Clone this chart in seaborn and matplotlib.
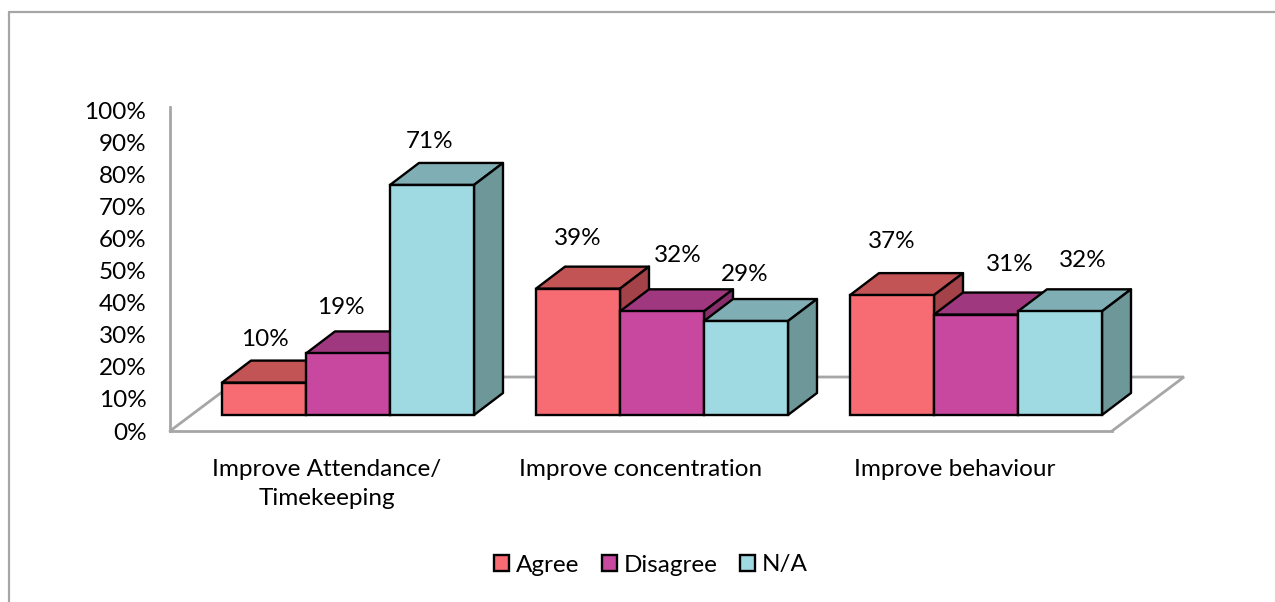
import matplotlib
matplotlib.use("Agg")
import matplotlib.pyplot as plt
import pandas as pd
import seaborn as sns
from matplotlib.lines import Line2D
from matplotlib.patches import Polygon

# Survey results
items = ["Improve Attendance/\nTimekeeping", "Improve concentration", "Improve behaviour"]
responses = ["Agree", "Disagree", "N/A"]
agree = [10, 39, 37]
disagree = [19, 32, 31]
not_applicable = [71, 29, 32]

front_colors = ["#F76C72", "#C8479F", "#9FD9E1"]
top_colors = ["#C25456", "#9F387F", "#7FAEB4"]
side_colors = ["#A34248", "#872F6B", "#6E9799"]
GREY = "#A6A6A6"
TEXT_SIZE = 17.5

W, H = 1275, 602
sns.set_theme(style="white")
plt.rcParams["font.family"] = ["Lato", "DejaVu Sans"]
plt.rcParams["font.size"] = TEXT_SIZE

df = pd.DataFrame({
    "item": items * 3,
    "response": [r for r in responses for _ in items],
    "share": agree + disagree + not_applicable,
})


def axes_px(fig, left, top, right, bottom):
    """Add axes from a box given in pixels measured from the top-left corner."""
    return fig.add_axes([left / W, 1 - bottom / H, (right - left) / W, (bottom - top) / H])


fig = plt.figure(figsize=(W / 100, H / 100), dpi=100, facecolor="white")

# Chart frame: open on the right and bottom edges
fig.add_artist(Line2D([9 / W, 9 / W], [0, 1 - 12 / H], color=GREY, lw=1.6))
fig.add_artist(Line2D([9 / W, 1], [1 - 12 / H, 1 - 12 / H], color=GREY, lw=1.6))

# Value axis, category labels and the floor of the 3D box
frame = axes_px(fig, 170, 107, 1112, 431)
frame.set_xlim(-0.5, 2.5)
frame.set_ylim(0, 101)
frame.set_xticks(range(3), items, fontsize=TEXT_SIZE, linespacing=1.5)
frame.set_yticks(range(0, 101, 10), [f"{v}%" for v in range(0, 101, 10)], fontsize=TEXT_SIZE)
frame.tick_params(axis="y", length=0, pad=17, labelcolor="black")
frame.tick_params(axis="x", length=0, pad=20, labelcolor="black")
for name in ("top", "right"):
    frame.spines[name].set_visible(False)
for name in ("left", "bottom"):
    frame.spines[name].set_color(GREY)
    frame.spines[name].set_linewidth(2)
floor_dx = 72 / 314
floor_dy = 54 / (324 / 101)
frame.plot([-0.5, -0.5 + floor_dx, 2.5 + floor_dx, 2.5], [0, floor_dy, floor_dy, 0],
           color=GREY, lw=2, clip_on=False, solid_joinstyle="miter")

# Bars stand slightly behind the front edge of the floor
ax = axes_px(fig, 191, 91, 1133, 415)
ax.patch.set_alpha(0)
sns.barplot(data=df, x="item", y="share", hue="response", order=items, hue_order=responses,
            palette=front_colors, saturation=1, width=0.8025, gap=0,
            edgecolor="black", linewidth=1.7, ax=ax)
handles, labels = ax.get_legend_handles_labels()
ax.get_legend().remove()
ax.set_xlim(-0.5, 2.5)
ax.set_ylim(0, 100)
ax.axis("off")

# Extrude every bar: top and side faces, painted left to right so later bars overlap
depth_x = 29 / 314
depth_y = 22 / 3.24
bars = sorted((b for c in ax.containers for b in c), key=lambda b: b.get_x())
label_nudges = [(1, 43), (-7, 46), (-2, 43), (0, 50), (16, 56), (-1, 47), (0, 54), (34, 50), (23, 51)]
for i, bar in enumerate(bars):
    x, w, h = bar.get_x(), bar.get_width(), bar.get_height()
    kind = i % 3
    face = dict(edgecolor="black", linewidth=1.7, joinstyle="round", clip_on=False, zorder=5 + i)
    ax.add_patch(Polygon([(x, h), (x + depth_x, h + depth_y), (x + w + depth_x, h + depth_y), (x + w, h)],
                         facecolor=top_colors[kind], **face))
    ax.add_patch(Polygon([(x + w, 0), (x + w + depth_x, depth_y), (x + w + depth_x, h + depth_y), (x + w, h)],
                         facecolor=side_colors[kind], **face))
    bar.set_zorder(5.5 + i)
    bar.set_clip_on(False)
    nudge_x, nudge_y = label_nudges[i]
    ax.annotate(f"{h:.0f}%", (x + w / 2, h), xytext=(nudge_x * 0.72, nudge_y * 0.72),
                textcoords="offset points", ha="center", va="center",
                fontsize=TEXT_SIZE, color="black", zorder=30)

fig.legend(handles, labels, loc="center", bbox_to_anchor=(651 / W, 1 - 565 / H), ncol=3,
           frameon=False, fontsize=TEXT_SIZE, handlelength=0.62, handleheight=0.62,
           handletextpad=0.3, columnspacing=0.9, labelcolor="black")

fig.savefig("out.png", dpi=100)
